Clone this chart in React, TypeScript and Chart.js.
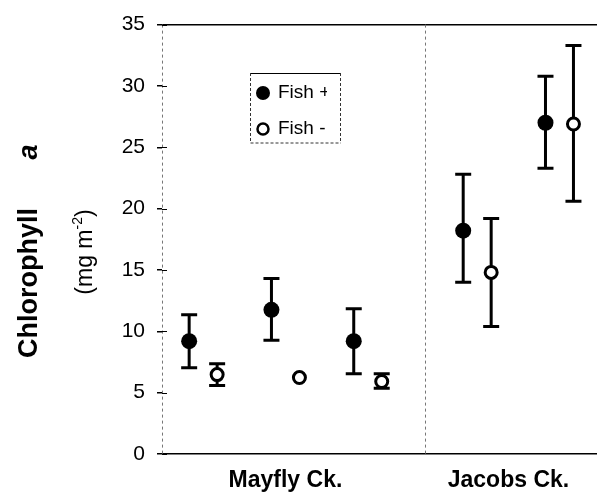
import React, { useEffect, useRef } from "react";
import { Chart, registerables } from "chart.js";

Chart.register(...registerables);

const FONT = "'Liberation Sans', Arial, Helvetica, sans-serif";

// ---- data ----
const siteLabels = ["Mayfly Ck.", "Jacobs Ck."];
const siteLabelPositions = [2, 4.71];
const sitePositions = [1, 2, 3, 4.33, 5.33];
const pairOffset = 0.17;
const separatorPosition = 3.69;
const yTicks = [0, 5, 10, 15, 20, 25, 30, 35];

const seriesLabels = ["Fish +", "Fish -"];
const fishPlusMean = [9.2, 11.75, 9.2, 18.2, 27.0];
const fishPlusLow = [7.03, 9.27, 6.55, 14.0, 23.3];
const fishPlusHigh = [11.35, 14.3, 11.83, 22.8, 30.8];
const fishMinusMean = [6.47, 6.23, 5.91, 14.8, 26.9];
const fishMinusLow = [5.59, 6.23, 5.35, 10.4, 20.6];
const fishMinusHigh = [7.35, 6.23, 6.55, 19.2, 33.3];

const customPlugin = {
  id: "customDecor",
  beforeDatasetsDraw(chart: any) {
    const { ctx, scales, chartArea } = chart;
    const x = scales.x;
    const y = scales.y;
    ctx.save();
    // dashed y axis line
    ctx.strokeStyle = "#777";
    ctx.lineWidth = 1;
    ctx.setLineDash([3, 3]);
    const ax = Math.round(chartArea.left) + 0.5;
    ctx.beginPath();
    ctx.moveTo(ax, chartArea.top);
    ctx.lineTo(ax, chartArea.bottom);
    ctx.stroke();
    // separator between creeks
    const sx = Math.round(x.getPixelForValue(separatorPosition)) + 0.5;
    ctx.beginPath();
    ctx.moveTo(sx, chartArea.top);
    ctx.lineTo(sx, chartArea.bottom);
    ctx.stroke();
    ctx.setLineDash([]);
    // inner half of tick marks
    ctx.strokeStyle = "#000";
    ctx.lineWidth = 1;
    for (const t of yTicks) {
      const py = Math.round(y.getPixelForValue(t)) + 0.5;
      ctx.beginPath();
      ctx.moveTo(chartArea.left, py);
      ctx.lineTo(chartArea.left + 5, py);
      ctx.stroke();
    }
    // error bars
    chart.data.datasets.forEach((ds: any) => {
      ds.data.forEach((p: any, i: number) => {
        const px = x.getPixelForValue(p.x);
        const yLo = y.getPixelForValue(ds.errorLow[i]);
        const yHi = y.getPixelForValue(ds.errorHigh[i]);
        if (Math.abs(yLo - yHi) < 1) return;
        ctx.lineWidth = 3;
        ctx.strokeStyle = "#000";
        ctx.beginPath();
        ctx.moveTo(px, yLo);
        ctx.lineTo(px, yHi);
        ctx.moveTo(px - 8, yLo);
        ctx.lineTo(px + 8, yLo);
        ctx.moveTo(px - 8, yHi);
        ctx.lineTo(px + 8, yHi);
        ctx.stroke();
      });
    });
    ctx.restore();
  },
  afterDraw(chart: any) {
    const { ctx } = chart;
    ctx.save();
    // ---- legend box ----
    const bx = 250, by = 73, bw = 91, bh = 70;
    ctx.strokeStyle = "#000";
    ctx.lineWidth = 1;
    ctx.beginPath();
    ctx.moveTo(bx, by + 0.5);
    ctx.lineTo(bx + bw, by + 0.5);
    ctx.stroke();
    ctx.setLineDash([3, 2]);
    ctx.strokeStyle = "#333";
    ctx.beginPath();
    ctx.moveTo(bx + 0.5, by);
    ctx.lineTo(bx + 0.5, by + bh);
    ctx.lineTo(bx + bw, by + bh);
    ctx.moveTo(bx + bw - 0.5, by);
    ctx.lineTo(bx + bw - 0.5, by + bh);
    ctx.stroke();
    ctx.setLineDash([]);
    const rows = [93, 129];
    chart.data.datasets.forEach((ds: any, i: number) => {
      const cy = rows[i];
      ctx.beginPath();
      ctx.arc(263, cy, i === 0 ? 7 : 5.5, 0, Math.PI * 2);
      ctx.fillStyle = ds.pointBackgroundColor;
      ctx.fill();
      if (ds.pointBorderWidth > 0) {
        ctx.lineWidth = 2.5;
        ctx.strokeStyle = "#000";
        ctx.stroke();
      }
      ctx.save();
      ctx.beginPath();
      ctx.rect(bx, by, 77, bh);
      ctx.clip();
      ctx.fillStyle = "#000";
      ctx.font = `19px ${FONT}`;
      ctx.textBaseline = "middle";
      ctx.textAlign = "left";
      ctx.fillText(ds.label, 278, cy);
      ctx.restore();
    });
    // ---- y axis title ----
    ctx.fillStyle = "#000";
    ctx.save();
    ctx.translate(37, 283);
    ctx.rotate(-Math.PI / 2);
    ctx.textBaseline = "alphabetic";
    ctx.textAlign = "center";
    ctx.font = `bold 27px ${FONT}`;
    ctx.fillText("Chlorophyll", 0, 0);
    ctx.font = `italic bold 27px ${FONT}`;
    ctx.fillText("a", 131, 0);
    ctx.restore();

    ctx.save();
    ctx.translate(92, 252);
    ctx.rotate(-Math.PI / 2);
    ctx.textBaseline = "alphabetic";
    ctx.textAlign = "left";
    const mainFont = `23px ${FONT}`;
    const supFont = `14px ${FONT}`;
    ctx.font = mainFont;
    const w1 = ctx.measureText("(mg m").width;
    const w3 = ctx.measureText(")").width;
    ctx.font = supFont;
    const w2 = ctx.measureText("-2").width;
    const total = w1 + w2 + w3;
    let cx = -total / 2;
    ctx.font = mainFont;
    ctx.fillText("(mg m", cx, 0);
    cx += w1;
    ctx.font = supFont;
    ctx.fillText("-2", cx, -10);
    cx += w2;
    ctx.font = mainFont;
    ctx.fillText(")", cx, 0);
    ctx.restore();

    ctx.restore();
  },
};

export default function App() {
  const ref = useRef<HTMLCanvasElement | null>(null);
  useEffect(() => {
    if (!ref.current) return;
    const chart = new Chart(ref.current, {
      type: "scatter",
      data: {
        datasets: [
          {
            label: seriesLabels[0],
            data: fishPlusMean.map((v, i) => ({ x: sitePositions[i] - pairOffset, y: v })),
            errorLow: fishPlusLow,
            errorHigh: fishPlusHigh,
            pointRadius: 8,
            pointBackgroundColor: "#000",
            pointBorderColor: "#000",
            pointBorderWidth: 0,
          } as any,
          {
            label: seriesLabels[1],
            data: fishMinusMean.map((v, i) => ({ x: sitePositions[i] + pairOffset, y: v })),
            errorLow: fishMinusLow,
            errorHigh: fishMinusHigh,
            pointRadius: 6,
            pointBackgroundColor: "#fff",
            pointBorderColor: "#000",
            pointBorderWidth: 3,
          } as any,
        ],
      },
      options: {
        responsive: false,
        animation: false,
        layout: { padding: { top: 16, left: 0, right: 0, bottom: 0 } },
        plugins: { legend: { display: false }, tooltip: { enabled: false } },
        scales: {
          x: {
            type: "linear",
            min: 0.5,
            max: 5.786,
            grid: { display: false, drawTicks: false },
            border: { display: false },
            afterBuildTicks: (s: any) => {
              s.ticks = siteLabelPositions.map((v) => ({ value: v }));
            },
            afterFit: (s: any) => {
              s.height = 49;
            },
            ticks: {
              callback: (_v: any, i: number) => siteLabels[i],
              font: { family: FONT, size: 23, weight: "bold" },
              color: "#000",
              padding: 13,
              maxRotation: 0,
              autoSkip: false,
            },
          },
          y: {
            type: "linear",
            min: 0,
            max: 35,
            afterBuildTicks: (s: any) => {
              s.ticks = yTicks.map((v) => ({ value: v }));
            },
            afterFit: (s: any) => {
              s.width = 162;
            },
            grid: {
              color: (c: any) =>
                c.tick && (c.tick.value === 0 || c.tick.value === 35) ? "#000" : "rgba(0,0,0,0)",
              lineWidth: 1.5,
              tickColor: "#000",
              tickLength: 5,
              drawTicks: true,
            },
            border: { display: false },
            ticks: {
              font: { family: FONT, size: 21 },
              color: "#000",
              padding: 12,
            },
          },
        },
      },
      plugins: [customPlugin],
    });
    return () => chart.destroy();
  }, []);
  return (
    <canvas
      ref={ref}
      width={606}
      height={503}
      style={{ position: "absolute", left: 0, top: 0, width: 606, height: 503 }}
    />
  );
}
